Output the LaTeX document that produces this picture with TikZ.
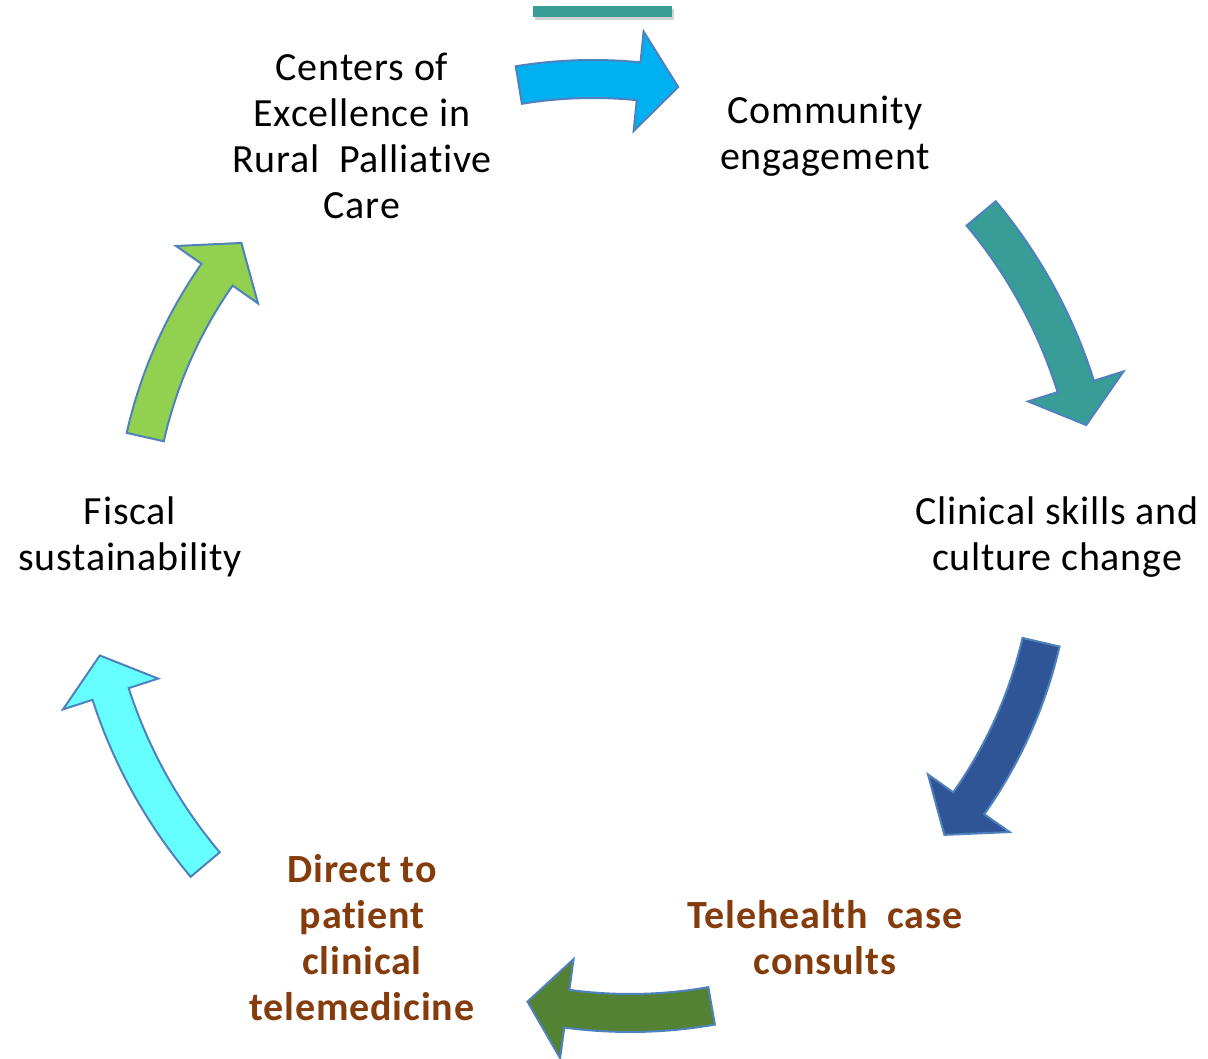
\documentclass[tikz,border=0pt]{standalone}
\usepackage{fontspec}
\setmainfont{Carlito}[Ligatures=NoCommon, LetterSpace=2]
\usetikzlibrary{shadows}
\definecolor{arrowline}{HTML}{4F81BD}
\definecolor{skyblue}{HTML}{00B0F0}
\definecolor{tealgreen}{HTML}{389D96}
\definecolor{navyblue}{HTML}{2F5597}
\definecolor{leafgreen}{HTML}{548235}
\definecolor{lightcyan}{HTML}{66FFFF}
\definecolor{limegreen}{HTML}{92D050}
\definecolor{rustbrown}{HTML}{843C0C}
% curved block arrow: colour, centre, radius, start angle, end angle
\newcommand{\cyclearrow}[5]{%
  \pgfmathsetmacro{\rout}{#3+19}%
  \pgfmathsetmacro{\rin}{#3-19}%
  \pgfmathsetmacro{\hout}{#3+50}%
  \pgfmathsetmacro{\hin}{#3-50}%
  \pgfmathsetmacro{\hbase}{#5+40/#3*57.3}%
  \begin{scope}[shift={#2}]
  \draw[arrowline, line width=2pt, fill=#1, line join=miter]
    (#4:\rout pt) arc[start angle=#4, end angle=\hbase, radius=\rout pt]
    -- (\hbase:\hout pt) -- (#5:#3 pt) -- (\hbase:\hin pt) -- (\hbase:\rin pt)
    arc[start angle=\hbase, end angle=#4, radius=\rin pt] -- cycle;
  \end{scope}
}

\begin{document}
\begin{tikzpicture}[x=1pt, y=1pt,
  every node/.style={font=\fontsize{40}{46}\selectfont, align=center, inner sep=0pt},
  step label/.style={text=black},
  tele label/.style={text=rustbrown, font=\fontsize{40}{46}\selectfont\bfseries}]
  \useasboundingbox (0,0) rectangle (1208,1059);

  % stray bar at the top
  \fill[tealgreen, drop shadow={shadow xshift=2pt, shadow yshift=-3pt, opacity=0.35}]
    (533,1042) rectangle (672,1053);

  % steps of the cycle
  \node[step label] (coe) at (362,923) {Centers of\\Excellence in\\Rural~~Palliative\\Care};
  \node[step label] (comm) at (825,923) {Community\\engagement};
  \node[step label] (skills) at (1057,522) {Clinical skills and\\culture change};
  \node[tele label] (consult) at (825,121) {Telehealth~~case\\consults};
  \node[tele label] (direct) at (362,121) {Direct to\\patient\\clinical\\telemedicine};
  \node[step label] (fiscal) at (130,522) {Fiscal\\sustainability};

  % arrows between the steps
  \cyclearrow{skyblue}{(593,521)}{459}{99.3}{79.3}
  \cyclearrow{tealgreen}{(593,521)}{506}{39.9}{12.9}
  \cyclearrow{navyblue}{(593,521)}{460}{-13.1}{-40.2}
  \cyclearrow{leafgreen}{(630,516)}{470}{-80}{-102.6}
  \cyclearrow{lightcyan}{(593,521)}{507}{220.1}{193.4}
  \cyclearrow{limegreen}{(593,521)}{459}{167.3}{140}
\end{tikzpicture}
\end{document}
